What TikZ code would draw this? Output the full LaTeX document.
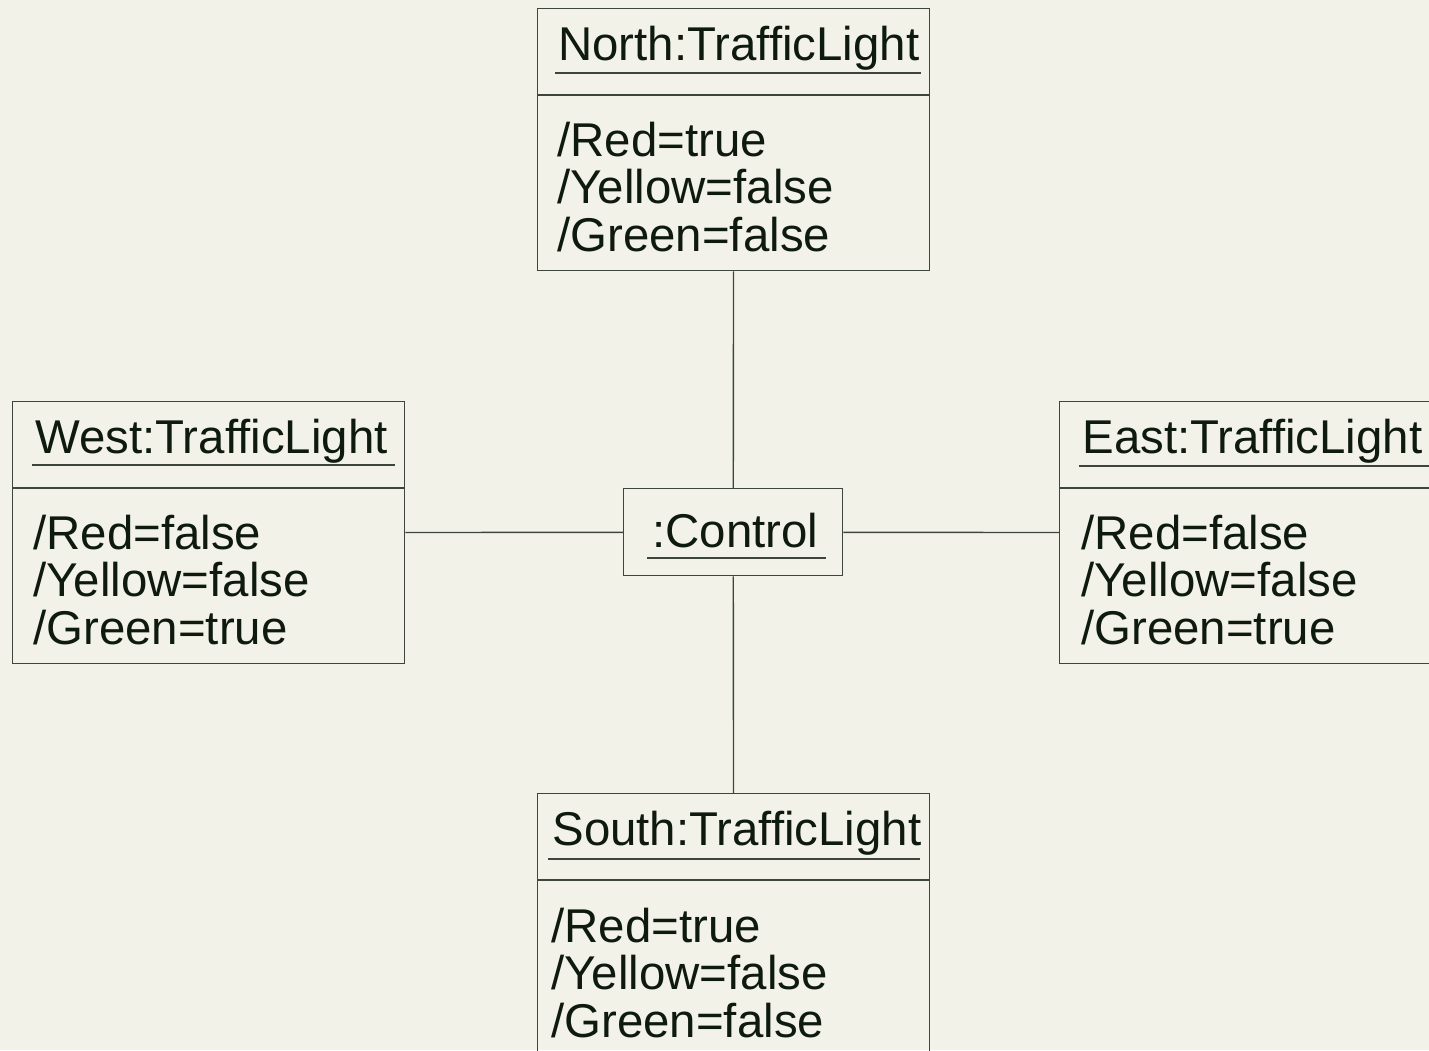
\documentclass[tikz,border=0pt]{standalone}
\usepackage{fontspec}
\setmainfont{Liberation Sans}
\usetikzlibrary{calc}
\definecolor{bg}{HTML}{F2F2E8}
\definecolor{ink}{HTML}{0F1A0F}
\definecolor{edge}{HTML}{3C463C}
\begin{document}
\begin{tikzpicture}[x=0.5pt,y=-0.5pt,
  objbox/.style={draw=edge, line width=0.7pt, rectangle, inner sep=0,
    minimum width=196pt, minimum height=131pt, anchor=north west},
  ctrlbox/.style={draw=edge, line width=0.7pt, rectangle, inner sep=0,
    minimum width=109.5pt, minimum height=43.5pt, anchor=north west},
  title/.style={text=ink, font=\fontsize{23.7}{24}\selectfont, inner sep=0, anchor=base west},
  attrs/.style={text=ink, font=\fontsize{23.7}{23.75}\selectfont, inner sep=0,
    anchor=base west, align=left},
  rule/.style={draw=edge, line width=0.6pt},
  link/.style={draw=edge, line width=0.7pt}]

\fill[bg] (0,0) rectangle (1429,1050);
\useasboundingbox (0,0) rectangle (1429,1050);
\clip (0,0) rectangle (1429,1050);

% object boxes
\node[objbox] (north) at (537,8) {};
\node[objbox] (west) at (12,401) {};
\node[objbox] (east) at (1059,401) {};
\node[objbox] (south) at (537,793) {};
\node[ctrlbox] (ctrl) at (623,488) {};

% compartment separators
\foreach \b in {north,west,east,south}
  \draw[rule] ($(\b.north west)+(0,87)$) -- ($(\b.north east)+(0,87)$);

% object names
\node[title] (northT) at ($(north.north west)+(21,52)$) {North:TrafficLight};
\node[title] (westT)  at ($(west.north west)+(23,52)$)  {West:TrafficLight};
\node[title] (eastT)  at ($(east.north west)+(23,52)$)  {East:TrafficLight};
\node[title] (southT) at ($(south.north west)+(15,52)$) {South:TrafficLight};
\node[title] (ctrlT)  at ($(ctrl.north west)+(29,59)$)  {:Control};

% name underlines
\draw[rule] ($(north.north west)+(18,65)$) -- ($(north.north west)+(384,65)$);
\draw[rule] ($(west.north west)+(20,64)$) -- ($(west.north west)+(383,64)$);
\draw[rule] ($(east.north west)+(20,65)$) -- ($(east.north west)+(390,65)$);
\draw[rule] ($(south.north west)+(11,66)$) -- ($(south.north west)+(383,66)$);
\draw[rule] ($(ctrl.north west)+(24,70)$) -- ($(ctrl.north west)+(203,70)$);

% attribute compartments (anchored at the baseline of the last line)
\node[attrs] (northA) at ($(north.north west)+(20,243)$) {/Red=true\\/Yellow=false\\/Green=false};
\node[attrs] (westA)  at ($(west.north west)+(21,243)$)  {/Red=false\\/Yellow=false\\/Green=true};
\node[attrs] (eastA)  at ($(east.north west)+(22,243)$)  {/Red=false\\/Yellow=false\\/Green=true};
\node[attrs] (southA) at ($(south.north west)+(14,244)$) {/Red=true\\/Yellow=false\\/Green=false};

% links
\draw[link] (north) -- (ctrl);
\draw[link] (ctrl) -- (south);
\draw[link] (west) -- (ctrl);
\draw[link] (ctrl) -- (east);
\end{tikzpicture}
\end{document}
